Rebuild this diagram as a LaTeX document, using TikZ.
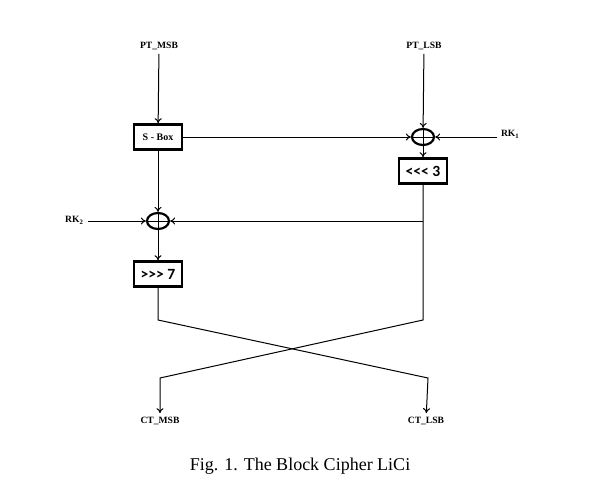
\documentclass[tikz,border=0pt]{standalone}
\usepackage{fontspec}
\setmainfont{Liberation Serif}
\newfontfamily\boxfont{Carlito}
\usetikzlibrary{arrows.meta,shapes.geometric}
\tikzset{
  lbl/.style={font=\fontsize{4.8}{5}\selectfont\bfseries, inner sep=0pt, outer sep=2pt},
  blk/.style={draw, line width=1.3pt, minimum width=24pt, minimum height=12.5pt, inner sep=0pt, font=\fontsize{5}{6}\selectfont\bfseries},
  rot/.style={blk, font=\fontsize{7.8}{8}\boxfont\bfseries},
  xor/.style={ellipse, draw, line width=1.1pt, minimum width=11pt, minimum height=8pt, inner sep=0pt,
    path picture={\draw[line width=.5pt] (path picture bounding box.north) -- (path picture bounding box.south)
      (path picture bounding box.west) -- (path picture bounding box.east);}},
  wire/.style={line width=.5pt},
  arr/.style={wire, -{To[length=2.5pt,width=3.5pt]}}
}
\begin{document}
\begin{tikzpicture}[x=0.5pt,y=-0.5pt]
\useasboundingbox (0,0) rectangle (606,482);
\node[lbl] (ptm) at (159,46) {PT\_MSB};
\node[lbl] (ptl) at (424,46) {PT\_LSB};
\node[blk] (sbox) at (158,137) {S - Box};
\node[xor] (xr) at (423,137) {};
\node[lbl,anchor=west] (rk1) at (497,134) {RK\textsubscript{1}};
\node[rot] (rot3) at (423,171) {<<< 3};
\node[xor] (xl) at (158,221) {};
\node[lbl,anchor=east] (rk2) at (88,220) {RK\textsubscript{2}};
\node[rot] (rot7) at (158,274) {>>> 7};
\node[lbl] (ctm) at (160,421) {CT\_MSB};
\node[lbl] (ctl) at (426,421) {CT\_LSB};
\node[font=\fontsize{9}{10}\selectfont] (cap) at (300,466) {Fig. 1. The Block Cipher LiCi};
\coordinate (j) at (rot3.south |- xl.east);
\coordinate (tl) at (158,320);
\coordinate (tr) at (423,320);
\coordinate (bl) at (160,378);
\coordinate (br) at (428,378);
\draw[arr] (ptm) -- (sbox);
\draw[arr] (ptl) -- (xr);
\draw[arr] (sbox) -- (xr);
\draw[arr] (rk1.west |- xr) -- (xr);
\draw[arr] (xr) -- (rot3);
\draw[arr] (sbox) -- (xl);
\draw[arr] (rk2.east |- xl) -- (xl);
\draw[arr] (j) -- (xl);
\draw[arr] (xl) -- (rot7);
\draw[arr] (rot7) -- (tl) -- (br) -- (ctl);
\draw[arr] (rot3) -- (tr) -- (bl) -- (ctm);
\end{tikzpicture}
\end{document}
